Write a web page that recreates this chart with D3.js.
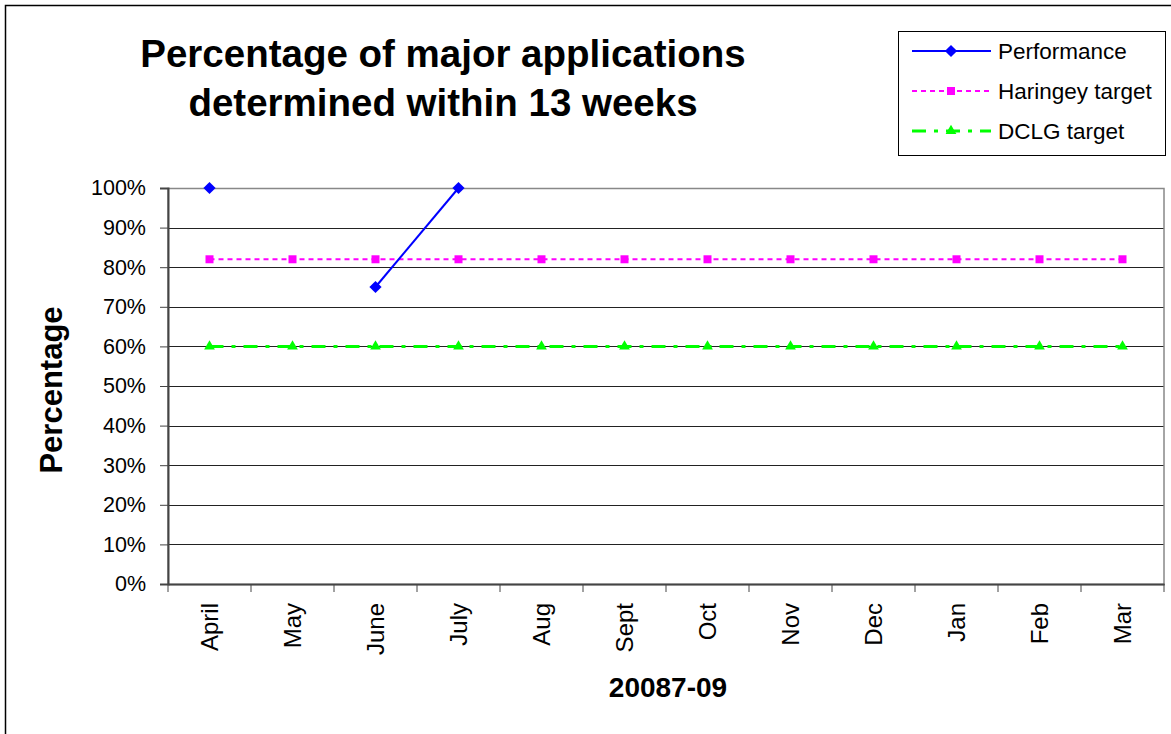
<!DOCTYPE html>
<html>
<head>
<meta charset="utf-8">
<script src="https://cdn.jsdelivr.net/npm/d3@7"></script>
<style>
  body { margin: 0; background: #fff; }
  svg { display: block; font-family: Arial, "Liberation Sans", sans-serif; }
</style>
</head>
<body>
<svg></svg>
<script>
const months = ['April', 'May', 'June', 'July', 'Aug', 'Sept', 'Oct', 'Nov', 'Dec', 'Jan', 'Feb', 'Mar'];
const performance = [1.0, null, 0.75, 1.0, null, null, null, null, null, null, null, null];
const haringeyTarget = [0.82, 0.82, 0.82, 0.82, 0.82, 0.82, 0.82, 0.82, 0.82, 0.82, 0.82, 0.82];
const dclgTarget = [0.6, 0.6, 0.6, 0.6, 0.6, 0.6, 0.6, 0.6, 0.6, 0.6, 0.6, 0.6];
const yTicks = [0, 0.1, 0.2, 0.3, 0.4, 0.5, 0.6, 0.7, 0.8, 0.9, 1.0];

const width = 1171;
const height = 734;
const svg = d3.select('svg').attr('width', width).attr('height', height);

// outer chart frame
svg.append('rect')
	.attr('x', 5.5).attr('y', 5.5)
	.attr('width', 1200).attr('height', 800)
	.attr('fill', 'none').attr('stroke', '#000').attr('stroke-width', 1.5);

const plot = { left: 168, right: 1164, top: 188, bottom: 584 };

const x = d3.scaleBand().domain(months).range([plot.left, plot.right]);
const y = d3.scaleLinear().domain([0, 1]).range([plot.bottom, plot.top]);

// gridlines
svg.append('g')
	.selectAll('line')
	.data(yTicks.filter((d) => d > 0 && d < 1))
	.enter()
	.append('line')
	.attr('x1', plot.left).attr('x2', plot.right)
	.attr('y1', (d) => Math.round(y(d)) + 0.5).attr('y2', (d) => Math.round(y(d)) + 0.5)
	.attr('stroke', '#222').attr('stroke-width', 1);

// plot area border
svg.append('rect')
	.attr('x', plot.left).attr('y', plot.top + 0.5)
	.attr('width', plot.right - plot.left).attr('height', plot.bottom - plot.top)
	.attr('fill', 'none').attr('stroke', '#888').attr('stroke-width', 1.5);

// y axis
const yAxis = svg.append('g')
	.attr('transform', `translate(${plot.left},0)`)
	.call(d3.axisLeft(y).tickValues(yTicks).tickFormat(d3.format('.0%')).tickSize(8).tickPadding(14));
yAxis.select('.domain').attr('stroke', '#444').attr('stroke-width', 2);
yAxis.selectAll('.tick line').attr('stroke', '#444').attr('stroke-width', 1);
yAxis.selectAll('.tick text').attr('font-size', 21.5).attr('fill', '#000');

// x axis
const xAxis = svg.append('g')
	.attr('transform', `translate(0,${plot.bottom})`)
	.call(d3.axisBottom(x).tickSize(0).tickPadding(0));
xAxis.select('.domain').attr('stroke', '#444').attr('stroke-width', 2);
xAxis.selectAll('.tick text')
	.attr('font-size', 24).attr('fill', '#000')
	.attr('transform', 'rotate(-90)')
	.attr('text-anchor', 'end')
	.attr('x', -19).attr('y', 0).attr('dy', '0.36em');
xAxis.selectAll('.cat-tick')
	.data(months.concat(['end']))
	.enter()
	.append('line')
	.attr('class', 'cat-tick')
	.attr('x1', (d, i) => plot.left + i * x.step()).attr('x2', (d, i) => plot.left + i * x.step())
	.attr('y1', 0).attr('y2', 8)
	.attr('stroke', '#444').attr('stroke-width', 1);

const cx = (i) => x(months[i]) + x.bandwidth() / 2;

// DCLG target
svg.append('path')
	.datum(dclgTarget)
	.attr('d', d3.line().x((d, i) => cx(i)).y((d) => y(d)))
	.attr('fill', 'none').attr('stroke', '#00ff00').attr('stroke-width', 3)
	.attr('stroke-dasharray', '14,8,4,8');
svg.append('g')
	.selectAll('path')
	.data(dclgTarget)
	.enter()
	.append('path')
	.attr('d', d3.symbol().type(d3.symbolTriangle).size(50))
	.attr('transform', (d, i) => `translate(${cx(i)},${y(d)})`)
	.attr('fill', '#00ff00');

// Haringey target
svg.append('path')
	.datum(haringeyTarget)
	.attr('d', d3.line().x((d, i) => cx(i)).y((d) => y(d)))
	.attr('fill', 'none').attr('stroke', '#ff00ff').attr('stroke-width', 2)
	.attr('stroke-dasharray', '5,4');
svg.append('g')
	.selectAll('rect')
	.data(haringeyTarget)
	.enter()
	.append('rect')
	.attr('x', (d, i) => cx(i) - 4).attr('y', (d) => y(d) - 4)
	.attr('width', 8).attr('height', 8)
	.attr('fill', '#ff00ff');

// Performance
svg.append('path')
	.datum(performance)
	.attr('d', d3.line().defined((d) => d !== null).x((d, i) => cx(i)).y((d) => y(d)))
	.attr('fill', 'none').attr('stroke', '#0000ff').attr('stroke-width', 2);
svg.append('g')
	.selectAll('path')
	.data(performance.map((v, i) => ({ v, i })).filter((d) => d.v !== null))
	.enter()
	.append('path')
	.attr('d', d3.symbol().type(d3.symbolDiamond2).size(95))
	.attr('transform', (d) => `translate(${cx(d.i)},${y(d.v)})`)
	.attr('fill', '#0000ff');

// titles
const title = svg.append('text')
	.attr('x', 443).attr('y', 67)
	.attr('text-anchor', 'middle')
	.attr('font-size', 38.5).attr('font-weight', 'bold');
title.append('tspan').attr('x', 443).text('Percentage of major applications');
title.append('tspan').attr('x', 443).attr('dy', 49).text('determined within 13 weeks');

svg.append('text')
	.attr('transform', 'translate(62,390) rotate(-90)')
	.attr('text-anchor', 'middle')
	.attr('font-size', 31).attr('font-weight', 'bold')
	.text('Percentage');

svg.append('text')
	.attr('x', 668).attr('y', 697)
	.attr('text-anchor', 'middle')
	.attr('font-size', 28).attr('font-weight', 'bold')
	.text('20087-09');

// legend
const legend = svg.append('g');
legend.append('rect')
	.attr('x', 898.5).attr('y', 31.5)
	.attr('width', 267).attr('height', 124)
	.attr('fill', '#fff').attr('stroke', '#000').attr('stroke-width', 1);

const legendItems = [
	{ name: 'Performance', color: '#0000ff', dash: null, shape: 'diamond', width: 2 },
	{ name: 'Haringey target', color: '#ff00ff', dash: '5,4', shape: 'square', width: 2 },
	{ name: 'DCLG target', color: '#00ff00', dash: '14,8,4,8', shape: 'triangle', width: 3 },
];
legendItems.forEach((item, i) => {
	const ly = 51 + i * 40;
	legend.append('line')
		.attr('x1', 912).attr('x2', 991).attr('y1', ly).attr('y2', ly)
		.attr('stroke', item.color).attr('stroke-width', item.width)
		.attr('stroke-dasharray', item.dash);
	if (item.shape === 'square') {
		legend.append('rect')
			.attr('x', 947).attr('y', ly - 4).attr('width', 8).attr('height', 8)
			.attr('fill', item.color);
	} else {
		legend.append('path')
			.attr('d', d3.symbol().type(item.shape === 'diamond' ? d3.symbolDiamond2 : d3.symbolTriangle).size(item.shape === 'diamond' ? 95 : 50))
			.attr('transform', `translate(951,${ly})`)
			.attr('fill', item.color);
	}
	legend.append('text')
		.attr('x', 998).attr('y', ly).attr('dy', '0.35em')
		.attr('font-size', 22.5)
		.text(item.name);
});
</script>
</body>
</html>
